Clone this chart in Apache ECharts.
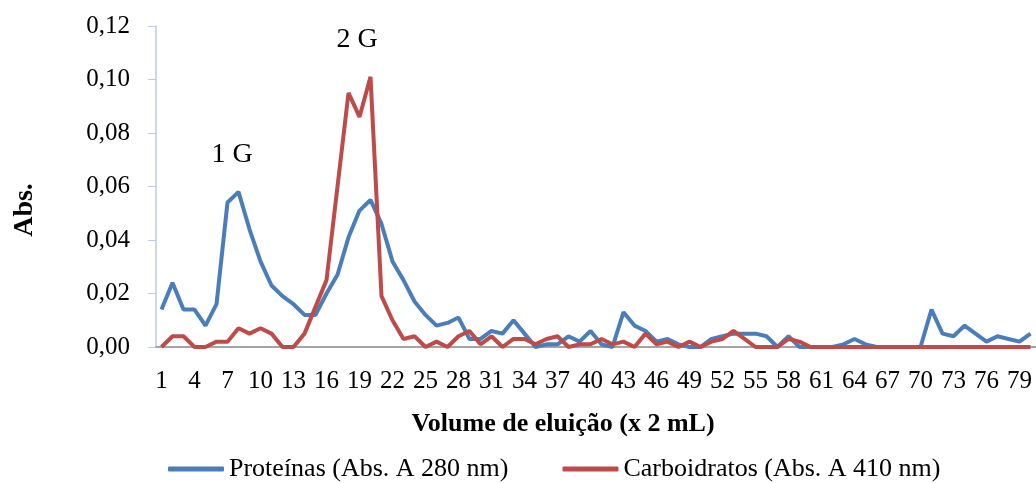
<!DOCTYPE html>
<html>
<head>
<meta charset="utf-8">
<script src="https://cdn.jsdelivr.net/npm/echarts@6/dist/echarts.min.js"></script>
<style>
    html, body { margin: 0; padding: 0; background: #ffffff; }
    #chart { width: 1036px; height: 483px; }
</style>
</head>
<body>
<div id="chart"></div>
<script>
// fraction number (volume de eluição x 2 mL)
var fractions = Array.from({ length: 80 }, function (_, i) { return String(i + 1); });

// Abs. 280 nm
var proteinas = [
    0.014, 0.024, 0.014, 0.014, 0.008, 0.016, 0.054, 0.058, 0.044, 0.032,
    0.023, 0.019, 0.016, 0.012, 0.012, 0.020, 0.027, 0.041, 0.051, 0.055,
    0.046, 0.032, 0.025, 0.017, 0.012, 0.008, 0.009, 0.011, 0.003, 0.003,
    0.006, 0.005, 0.010, 0.005, 0.000, 0.001, 0.001, 0.004, 0.002, 0.006,
    0.001, 0.000, 0.013, 0.008, 0.006, 0.002, 0.003, 0.001, 0.000, 0.000,
    0.003, 0.004, 0.005, 0.005, 0.005, 0.004, 0.000, 0.004, 0.000, 0.000,
    0.000, 0.000, 0.001, 0.003, 0.001, 0.000, 0.000, 0.000, 0.000, 0.000,
    0.014, 0.005, 0.004, 0.008, 0.005, 0.002, 0.004, 0.003, 0.002, 0.005
];

// Abs. 410 nm
var carboidratos = [
    0.000, 0.004, 0.004, 0.000, 0.000, 0.002, 0.002, 0.007, 0.005, 0.007,
    0.005, 0.000, 0.000, 0.005, 0.015, 0.025, 0.060, 0.095, 0.086, 0.101,
    0.019, 0.010, 0.003, 0.004, 0.000, 0.002, 0.000, 0.004, 0.006, 0.001,
    0.004, 0.000, 0.003, 0.003, 0.001, 0.003, 0.004, 0.000, 0.001, 0.001,
    0.003, 0.001, 0.002, 0.000, 0.005, 0.001, 0.002, 0.000, 0.002, 0.000,
    0.002, 0.003, 0.006, 0.003, 0.000, 0.000, 0.000, 0.003, 0.002, 0.000,
    0.000, 0.000, 0.000, 0.000, 0.000, 0.000, 0.000, 0.000, 0.000, 0.000,
    0.000, 0.000, 0.000, 0.000, 0.000, 0.000, 0.000, 0.000, 0.000, 0.000
];

var serif = 'Liberation Serif';

var chart = echarts.init(document.getElementById('chart'));
chart.setOption({
    animation: false,
    grid: { left: 156, right: 0, top: 26, bottom: 136 },
    legend: {
        left: 163,
        top: 451,
        icon: 'roundRect',
        itemWidth: 56,
        itemHeight: 5,
        itemGap: 54,
        textStyle: { fontFamily: serif, fontSize: 26, color: '#000' },
        data: ['Proteínas (Abs. A 280 nm)', 'Carboidratos (Abs. A 410 nm)']
    },
    xAxis: {
        type: 'category',
        data: fractions,
        boundaryGap: true,
        axisLine: { lineStyle: { color: '#868686', width: 1.5 } },
        axisTick: { show: false },
        axisLabel: {
            interval: 2,
            margin: 22,
            fontFamily: serif,
            fontSize: 25,
            color: '#000'
        }
    },
    yAxis: {
        type: 'value',
        min: 0,
        max: 0.12,
        interval: 0.02,
        splitLine: { show: false },
        axisLine: { show: true, lineStyle: { color: '#B9CDE5', width: 1.5 } },
        axisTick: { show: true, length: 8, lineStyle: { color: '#B9CDE5' } },
        axisLabel: {
            margin: 26,
            fontFamily: serif,
            fontSize: 25,
            color: '#000',
            formatter: function (v) { return v.toFixed(2).replace('.', ','); }
        }
    },
    graphic: [
        {
            type: 'text', x: 25, y: 210, rotation: Math.PI / 2,
            style: { text: 'Abs.', font: 'bold 28px "Liberation Serif"', fill: '#000', align: 'center', verticalAlign: 'middle' }
        },
        {
            type: 'text', x: 563, y: 424,
            style: { text: 'Volume de eluição (x 2 mL)', font: 'bold 26px "Liberation Serif"', fill: '#000', align: 'center', verticalAlign: 'middle' }
        },
        {
            type: 'text', x: 232, y: 155,
            style: { text: '1 G', font: '28px "Liberation Serif"', fill: '#000', align: 'center', verticalAlign: 'middle' }
        },
        {
            type: 'text', x: 357, y: 40,
            style: { text: '2 G', font: '28px "Liberation Serif"', fill: '#000', align: 'center', verticalAlign: 'middle' }
        }
    ],
    series: [
        {
            name: 'Proteínas (Abs. A 280 nm)',
            type: 'line',
            data: proteinas,
            symbol: 'none',
            itemStyle: { color: '#4A7EBB' },
            lineStyle: { color: '#4A7EBB', width: 4 }
        },
        {
            name: 'Carboidratos (Abs. A 410 nm)',
            type: 'line',
            data: carboidratos,
            symbol: 'none',
            itemStyle: { color: '#BE4B48' },
            lineStyle: { color: '#BE4B48', width: 4 }
        }
    ]
});
</script>
</body>
</html>
